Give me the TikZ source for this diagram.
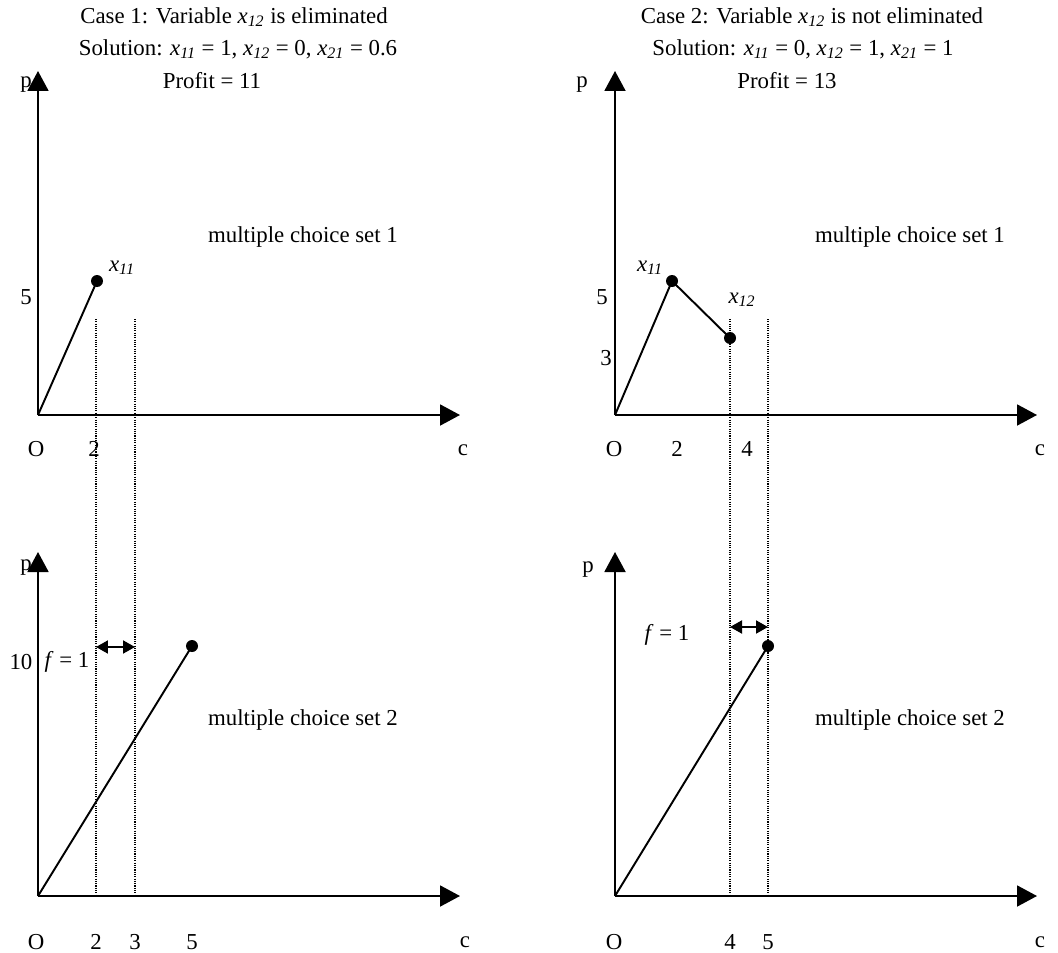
\documentclass[tikz,border=0pt]{standalone}
\usepackage{fontspec}
\setmainfont{Liberation Serif}
\usetikzlibrary{arrows.meta}
\newcommand{\xsub}[1]{\textit{x}\textsubscript{\textit{#1}}}

\begin{document}
\begin{tikzpicture}[
  x=0.02cm, y=-0.02cm,
  lbl/.style={font=\fontsize{13}{15}\selectfont, inner sep=0pt},
  axis/.style={line width=1.1pt, -{Triangle[length=0.4cm, width=0.42cm]}},
  seg/.style={line width=1.1pt},
  guide/.style={line width=0.6pt, dash pattern=on 0.6pt off 0.7pt},
  span/.style={line width=1.1pt, {Triangle[length=0.24cm, width=0.26cm]}-{Triangle[length=0.24cm, width=0.26cm]}},
  pt/.style={circle, fill, inner sep=0pt, minimum size=0.24cm},
]
\useasboundingbox (0,0) rectangle (1058,953);

% titles
\node[lbl] (t1a) at (234,17) {Case 1: Variable \xsub{12} is eliminated};
\node[lbl] (t1b) at (238,49) {Solution: \xsub{11} = 1, \xsub{12} = 0, \xsub{21} = 0.6};
\node[lbl] (t1c) at (212,81) {Profit = 11};
\node[lbl] (t2a) at (812,17) {Case 2: Variable \xsub{12} is not eliminated};
\node[lbl] (t2b) at (803,49) {Solution: \xsub{11} = 0, \xsub{12} = 1, \xsub{21} = 1};
\node[lbl] (t2c) at (787,81) {Profit = 13};

% axes
\coordinate (oA) at (38,415);  \coordinate (pA) at (38,71);   \coordinate (cA) at (460,415);
\coordinate (oB) at (615,415); \coordinate (pB) at (615,71);  \coordinate (cB) at (1037,415);
\coordinate (oC) at (38,896);  \coordinate (pC) at (38,552);  \coordinate (cC) at (460,896);
\coordinate (oD) at (615,896); \coordinate (pD) at (615,552); \coordinate (cD) at (1037,896);
\foreach \o/\p/\c in {oA/pA/cA, oB/pB/cB, oC/pC/cC, oD/pD/cD}{
  \draw[axis] (\o) -- (\p);
  \draw[axis] (\o) -- (\c);
}

% axis labels
\node[lbl] (pa) at (26,85) {p};
\node[lbl] (pb) at (582,85) {p};
\node[lbl] (pc) at (26,568) {p};
\node[lbl] (pd) at (588,570) {p};
\node[lbl] (ca) at (463,450) {c};
\node[lbl] (cb) at (1040,450) {c};
\node[lbl] (cc) at (465,942) {c};
\node[lbl] (cd) at (1040,942) {c};
\node[lbl] (Oa) at (36,449) {O};
\node[lbl] (Ob) at (614,449) {O};
\node[lbl] (Oc) at (36,942) {O};
\node[lbl] (Od) at (614,942) {O};

% ticks
\node[lbl] (a5) at (26,297) {5};
\node[lbl] (a2) at (94,449) {2};
\node[lbl] (b5) at (602,297) {5};
\node[lbl] (b3) at (606,358) {3};
\node[lbl] (b2) at (677,449) {2};
\node[lbl] (b4) at (747,449) {4};
\node[lbl] (c10) at (21,662) {10};
\node[lbl] (c2) at (96,942) {2};
\node[lbl] (c3) at (135,942) {3};
\node[lbl] (c5) at (192,942) {5};
\node[lbl] (d4) at (730,942) {4};
\node[lbl] (d5) at (768,942) {5};

% set names
\node[lbl] (setA) at (303,237) {multiple choice set 1};
\node[lbl] (setB) at (910,237) {multiple choice set 1};
\node[lbl] (setC) at (303,720) {multiple choice set 2};
\node[lbl] (setD) at (910,720) {multiple choice set 2};

% items
\node[pt] (a11) at (97,281) {};
\node[lbl] (la11) at (122,268) {\xsub{11}};
\draw[seg] (oA) -- (a11.center);

\node[pt] (b11) at (672,281) {};
\node[pt] (b12) at (730,338) {};
\node[lbl] (lb11) at (650,268) {\xsub{11}};
\node[lbl] (lb12) at (742,300) {\xsub{12}};
\draw[seg] (oB) -- (b11.center) -- (b12.center);

\node[pt] (c21) at (192,646) {};
\draw[seg] (oC) -- (c21.center);

\node[pt] (d21) at (768,646) {};
\draw[seg] (oD) -- (d21.center);

% gaps
\coordinate (gA1) at (96,319);  \coordinate (gA2) at (135,319);
\coordinate (gB1) at (730,319); \coordinate (gB2) at (768,319);
\foreach \g in {gA1, gA2, gB1, gB2}
  \draw[guide] (\g) -- (\g |- oC);

\coordinate (fC) at (0,647);
\coordinate (fD) at (0,627);
\draw[span] (gA1 |- fC) -- (gA2 |- fC);
\draw[span] (gB1 |- fD) -- (gB2 |- fD);
\node[lbl] (fc) at (67,662) {\textit{f} = 1};
\node[lbl] (fd) at (667,635) {\textit{f} = 1};
\end{tikzpicture}
\end{document}
